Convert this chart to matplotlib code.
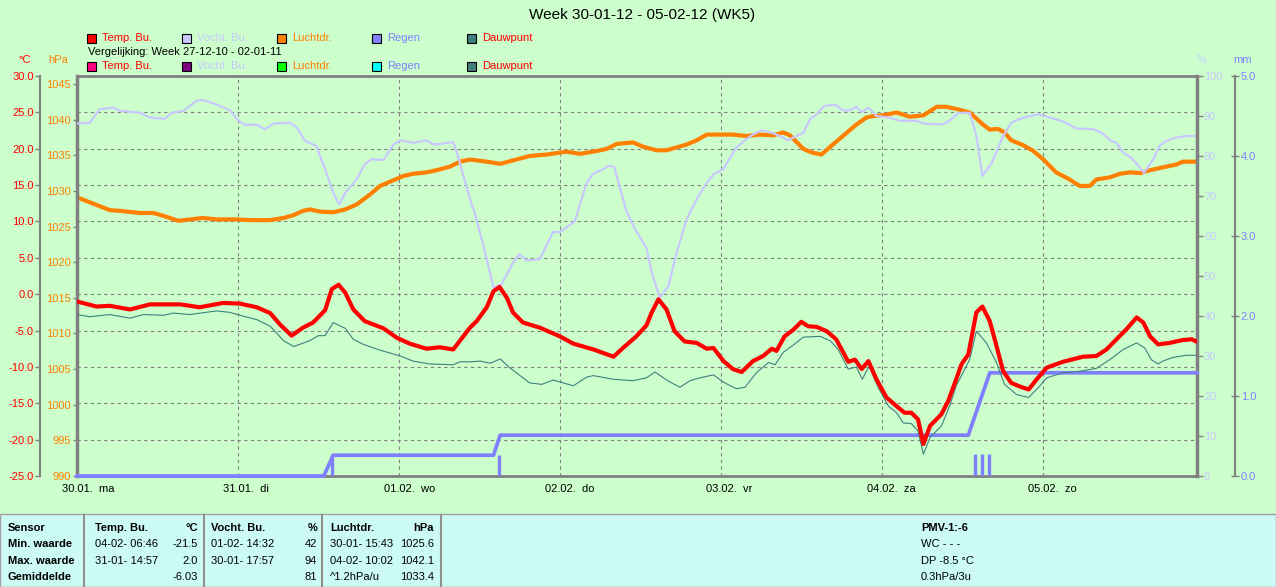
import matplotlib
matplotlib.use('Agg')
import matplotlib.pyplot as plt
from matplotlib.patches import Rectangle
from matplotlib.lines import Line2D

# hours since 30-01 00:00
temp_h = [0, 2.9, 4.9, 7.9, 10.9, 15.4, 18.3, 21.8, 24.3, 26.8, 28.8, 30.3, 32.0, 33.7, 35.2,
          37.0, 38.0, 39.0, 40.0, 41.2, 42.9, 45.7, 47.7, 49.6, 52.1, 54.1, 56.1, 57.6, 58.6, 59.6,
          61.1, 62.1, 63.0, 64.1, 65.0, 66.5, 69.0, 72.0, 74.0, 77.0, 80.0, 81.4, 83.4, 84.9, 85.7,
          86.7, 87.9, 89.1, 90.6, 92.4, 93.9, 94.9, 96.4, 97.8, 99.1, 100.8, 102.3, 103.6, 104.3, 105.5,
          106.8, 108.0, 109.0, 110.3, 111.8, 113.2, 115.0, 116.0, 117.0, 118.0, 119.2, 120.7, 122.2, 123.4, 124.4,
          125.4, 126.2, 127.2, 128.9, 129.9, 130.9, 131.9, 132.9, 134.1, 135.0, 136.1, 137.1, 138.1, 139.3, 140.6,
          141.9, 143.1, 144.6, 147.0, 150.0, 152.0, 153.5, 155.0, 156.5, 158.0, 159.0, 160.0, 161.2, 162.9, 164.9,
          166.2, 166.9]
temp = [-1.0, -1.7, -1.6, -2.1, -1.4, -1.4, -1.8, -1.2, -1.3, -1.8, -2.6, -4.2, -5.7, -4.6, -3.9,
        -2.2, 0.7, 1.3, 0.2, -2.1, -3.7, -4.7, -6.0, -6.8, -7.5, -7.3, -7.6, -5.8, -4.6, -3.7,
        -1.8, 0.4, 1.0, -0.5, -2.5, -3.9, -4.6, -5.8, -6.8, -7.6, -8.6, -7.4, -5.8, -4.3, -2.5,
        -0.7, -2.1, -5.1, -6.5, -6.7, -7.5, -7.4, -9.2, -10.3, -10.7, -9.2, -8.5, -7.5, -7.8, -5.8,
        -4.9, -3.8, -4.4, -4.5, -5.1, -6.2, -9.3, -9.0, -10.3, -9.2, -11.7, -14.2, -15.4, -16.3, -16.3,
        -17.2, -20.6, -18.1, -16.5, -14.7, -12.2, -9.6, -8.3, -2.5, -1.7, -3.7, -7.1, -10.6, -12.2, -12.7,
        -13.1, -11.7, -10.1, -9.3, -8.6, -8.5, -7.6, -6.2, -4.8, -3.2, -3.9, -5.8, -6.9, -6.7, -6.3,
        -6.2, -6.5]

dew_h = [0, 1.9, 4.9, 7.9, 9.9, 12.9, 14.4, 16.8, 20.8, 22.8, 24.3, 26.8, 28.8, 30.8, 32.3,
         34.7, 36.0, 37.0, 38.2, 40.0, 41.2, 42.7, 45.2, 48.2, 50.1, 52.6, 56.1, 57.1, 58.6, 60.1,
         61.6, 63.1, 64.5, 67.5, 69.3, 71.0, 74.0, 76.0, 77.0, 80.0, 81.4, 82.9, 84.9, 86.2, 87.9,
         89.9, 91.4, 92.9, 94.9, 96.4, 98.3, 99.6, 101.3, 103.1, 104.1, 105.3, 106.8, 108.3, 110.8, 112.3,
         113.5, 115.0, 116.2, 117.1, 118.1, 119.5, 121.0, 122.2, 123.2, 124.4, 125.4, 126.2, 127.2, 128.9, 130.1,
         131.1, 132.1, 133.1, 134.1, 135.6, 137.1, 138.3, 140.1, 141.9, 143.3, 144.6, 147.0, 149.5, 152.0, 154.0,
         156.0, 158.0, 159.2, 160.2, 161.2, 161.9, 163.4, 165.4, 166.9]
dew = [-2.8, -3.1, -2.8, -3.3, -2.8, -2.9, -2.6, -2.8, -2.3, -2.5, -2.9, -3.5, -4.4, -6.4, -7.2,
       -6.4, -5.7, -5.7, -3.9, -4.7, -6.2, -6.9, -7.7, -8.5, -9.2, -9.6, -9.7, -9.3, -9.3, -9.2,
       -9.5, -8.9, -10.1, -12.2, -12.4, -11.8, -12.6, -11.4, -11.2, -11.7, -11.8, -11.9, -11.5, -10.7, -11.8,
       -12.8, -11.9, -11.5, -11.1, -12.1, -13.0, -12.8, -10.8, -9.4, -9.7, -8.0, -7.0, -5.9, -5.8, -6.4,
       -7.6, -10.3, -10.0, -11.7, -9.9, -12.9, -15.4, -16.3, -17.7, -17.8, -18.8, -22.0, -19.7, -18.1, -15.4,
       -12.6, -10.8, -9.0, -5.1, -6.7, -9.4, -12.4, -13.8, -14.2, -12.9, -11.5, -10.8, -10.6, -10.2, -9.0,
       -7.6, -6.7, -7.4, -9.0, -9.6, -9.2, -8.7, -8.4, -8.4]

hum_h = [0, 1.9, 3.4, 5.4, 6.4, 9.4, 10.9, 13.1, 14.1, 15.9, 17.8, 18.8, 20.8, 22.8, 24.1,
         25.0, 26.8, 28.0, 29.3, 31.8, 32.8, 34.0, 35.7, 37.2, 38.2, 39.1, 40.0, 41.7, 42.9, 43.9,
         45.7, 47.2, 48.2, 50.1, 52.1, 53.1, 54.6, 56.1, 56.8, 58.6, 59.3, 60.8, 62.1, 63.3, 65.0,
         66.0, 67.0, 69.0, 71.0, 72.0, 74.2, 76.0, 77.0, 78.5, 79.2, 80.1, 81.9, 83.2, 84.9, 85.7,
         86.9, 88.2, 89.4, 90.9, 92.4, 93.9, 94.9, 96.4, 98.3, 99.8, 100.8, 102.1, 103.8, 104.8, 106.0,
         106.8, 108.3, 109.3, 110.3, 111.3, 112.0, 113.2, 114.2, 115.2, 116.2, 117.0, 118.0, 119.2, 121.0, 122.7,
         125.2, 126.2, 129.1, 130.1, 131.4, 133.1, 134.1, 135.0, 136.4, 138.1, 139.3, 141.1, 143.3, 146.0, 147.5,
         149.0, 151.5, 152.8, 154.2, 155.0, 156.0, 157.2, 158.5, 159.1, 160.5, 161.4, 162.4, 163.9, 165.4, 166.9]
hum = [88.1, 88.3, 91.7, 92.1, 91.3, 90.8, 89.6, 89.3, 90.8, 91.3, 93.8, 94.0, 92.9, 91.4, 88.8,
       87.8, 87.8, 86.7, 88.1, 88.3, 87.1, 83.8, 82.5, 75.8, 70.8, 67.9, 70.8, 74.2, 77.9, 79.2,
       79.0, 82.9, 83.9, 83.3, 83.9, 82.9, 83.1, 83.5, 80.0, 69.2, 65.8, 56.3, 47.1, 47.9, 53.3,
       55.4, 53.9, 54.2, 61.0, 61.0, 63.6, 73.3, 75.6, 76.7, 77.5, 77.3, 66.3, 61.7, 57.1, 50.8,
       44.6, 47.5, 55.8, 64.2, 69.2, 73.3, 75.4, 76.8, 82.1, 84.2, 85.4, 86.4, 85.7, 85.0, 83.9,
       84.6, 85.8, 89.2, 90.4, 92.3, 92.7, 92.7, 91.4, 91.4, 92.3, 91.0, 92.1, 90.0, 89.6, 88.8,
       88.8, 88.1, 87.9, 88.8, 90.8, 90.8, 85.0, 75.0, 78.3, 85.0, 88.3, 89.6, 90.4, 89.2, 88.3,
       86.9, 86.7, 85.8, 83.8, 83.3, 80.8, 79.6, 77.1, 75.8, 79.2, 82.5, 83.8, 84.6, 85.0, 85.0]

pres_h = [0, 1.9, 4.9, 6.4, 9.4, 11.4, 12.9, 15.1, 17.8, 18.8, 20.8, 23.8, 25.8, 28.8, 30.8,
          32.3, 33.7, 34.7, 36.2, 38.2, 40.0, 41.7, 43.7, 45.2, 46.7, 48.7, 50.1, 52.1, 53.6, 55.6,
          57.1, 58.6, 61.1, 63.1, 65.5, 67.5, 70.0, 73.0, 75.0, 77.5, 79.0, 80.5, 82.9, 84.4, 86.4,
          87.9, 90.9, 92.4, 93.9, 96.4, 97.8, 99.8, 101.8, 103.8, 105.3, 106.3, 108.3, 109.5, 111.0, 112.7,
          114.2, 116.2, 117.7, 118.7, 120.2, 122.2, 124.2, 126.2, 128.2, 129.6, 131.1, 133.1, 135.1, 136.1, 137.3,
          138.3, 139.3, 141.1, 142.6, 144.1, 146.0, 148.0, 149.5, 151.0, 152.0, 154.0, 155.5, 157.0, 158.5, 160.0,
          161.9, 163.9, 164.9, 166.9]
pres = [1029.1, 1028.4, 1027.3, 1027.2, 1026.9, 1026.9, 1026.5, 1025.8, 1026.1, 1026.2, 1026.0, 1026.0, 1025.9, 1025.9, 1026.2,
        1026.6, 1027.2, 1027.4, 1027.1, 1027.0, 1027.4, 1028.1, 1029.5, 1030.7, 1031.3, 1032.1, 1032.4, 1032.6, 1032.9, 1033.4,
        1034.1, 1034.4, 1034.1, 1033.8, 1034.4, 1034.9, 1035.1, 1035.5, 1035.2, 1035.6, 1035.9, 1036.6, 1036.8, 1036.2, 1035.7,
        1035.7, 1036.5, 1037.1, 1037.9, 1037.9, 1037.9, 1037.7, 1037.9, 1037.8, 1038.2, 1037.8, 1035.9, 1035.4, 1035.1, 1036.5,
        1037.7, 1039.3, 1040.3, 1040.5, 1040.6, 1041.0, 1040.4, 1040.6, 1041.8, 1041.8, 1041.5, 1041.0, 1039.3, 1038.6, 1038.7,
        1038.2, 1037.1, 1036.4, 1035.6, 1034.4, 1032.6, 1031.6, 1030.7, 1030.7, 1031.6, 1031.9, 1032.4, 1032.6, 1032.5, 1032.9,
        1033.3, 1033.7, 1034.1, 1034.1]

# cumulative rain (mm) and the individual rain events
rain_h = [0, 36.8, 38.2, 62.1, 63.1, 132.9, 136.1, 167.0]
rain_mm = [0, 0, 0.26, 0.26, 0.51, 0.51, 1.29, 1.29]
shower_h = [38.0, 62.9, 133.9, 134.9, 136.0]
shower_mm = [0.26, 0.26, 0.27, 0.27, 0.27]

day_labels = ['30.01.  ma', '31.01.  di', '01.02.  wo', '02.02.  do', '03.02.  vr', '04.02.  za', '05.02.  zo']
temp_ticks = [-25, -20, -15, -10, -5, 0, 5, 10, 15, 20, 25, 30]
pres_ticks = [990, 995, 1000, 1005, 1010, 1015, 1020, 1025, 1030, 1035, 1040, 1045]
hum_ticks = [0, 10, 20, 30, 40, 50, 60, 70, 80, 90, 100]
mm_ticks = [0, 1, 2, 3, 4, 5]

W, H = 1276, 587
BG = '#CCFFCC'
GRAY = '#808080'
RED = '#FF0000'
ORANGE = '#FF8000'
LAV = '#C8C8FF'
BLUE = '#8080FF'
TEAL = '#408080'

plt.rcParams['font.family'] = ['Liberation Sans', 'DejaVu Sans']
plt.rcParams['font.size'] = 8


def fx(x):
    return x / W


def fy(y):
    return 1 - y / H


fig = plt.figure(figsize=(W / 100, H / 100), dpi=100, facecolor=BG)

# base axes: temperature scale + grid
ax = fig.add_axes([fx(77), fy(476), 1120 / W, 400 / H])
ax.set_facecolor(BG)
ax.set_xlim(0, 167)
ax.set_ylim(-25, 30)
ax.set_xticks([24 * i for i in range(7)])
ax.set_xticklabels(day_labels)
ax.set_yticks(temp_ticks)
ax.set_yticklabels(['%.1f' % t for t in temp_ticks])
ax.grid(True, color=GRAY, ls=(0, (3, 3)), lw=0.8)
ax.tick_params(axis='x', length=0, pad=6, labelsize=8, labelcolor='black')
ax.tick_params(axis='y', direction='out', length=3.6, width=1, color=GRAY,
               labelcolor=RED, pad=1, labelsize=8)
for lbl in ax.get_xticklabels():
    lbl.set_ha('left')
    lbl.set_transform(lbl.get_transform() +
                      matplotlib.transforms.ScaledTranslation(-15 / 100, 0, fig.dpi_scale_trans))
ax.spines['left'].set_position(('outward', 26.6))
ax.spines['left'].set_color(GRAY)
ax.spines['left'].set_linewidth(1.5)
ax.spines['right'].set_visible(False)
for s in ('top', 'bottom'):
    ax.spines[s].set_color(GRAY)
    ax.spines[s].set_linewidth(2)

# pressure
ax_p = ax.twinx()
ax_p.yaxis.tick_left()
ax_p.set_ylim(990, 1046.12)
ax_p.set_yticks(pres_ticks)
ax_p.tick_params(axis='y', direction='out', length=3.2, width=1, color=GRAY,
                 labelcolor=ORANGE, pad=1, labelsize=8)
for s in ('top', 'bottom', 'right'):
    ax_p.spines[s].set_visible(False)
ax_p.spines['left'].set_color(GRAY)
ax_p.spines['left'].set_linewidth(2.5)
ax_p.plot(pres_h, pres, color=ORANGE, lw=3)

# humidity
ax_h = ax.twinx()
ax_h.set_ylim(0, 100)
ax_h.set_yticks(hum_ticks)
ax_h.tick_params(axis='y', direction='out', length=4, width=1, color=GRAY,
                 labelcolor=LAV, pad=1, labelsize=8)
for s in ('top', 'bottom', 'left'):
    ax_h.spines[s].set_visible(False)
ax_h.spines['right'].set_color(GRAY)
ax_h.spines['right'].set_linewidth(2.5)
ax_h.plot(hum_h, hum, color=LAV, lw=1.6)

# rain
ax_r = ax.twinx()
ax_r.set_ylim(0, 5)
ax_r.set_yticks(mm_ticks)
ax_r.set_yticklabels(['%.1f' % m for m in mm_ticks])
ax_r.spines['right'].set_position(('outward', 27.4))
ax_r.tick_params(axis='y', direction='inout', length=6, width=1, color=GRAY,
                 labelcolor=BLUE, pad=1, labelsize=8)
for s in ('top', 'bottom', 'left'):
    ax_r.spines[s].set_visible(False)
ax_r.spines['right'].set_color(GRAY)
ax_r.spines['right'].set_linewidth(1.5)
ax_r.plot(rain_h, rain_mm, color=BLUE, lw=2.7, clip_on=False)
ax_r.vlines(shower_h, 0, shower_mm, color=BLUE, lw=2.4)

# temperature + dew point on top
ax_t = ax.twinx()
ax_t.set_ylim(-25, 30)
ax_t.axis('off')
ax_t.plot(dew_h, dew, color=TEAL, lw=0.8)
ax_t.plot(temp_h, temp, color=RED, lw=3)

# title and legend
fig.text(fx(642), fy(15), 'Week 30-01-12 - 05-02-12 (WK5)', ha='center', va='center', fontsize=11)

legend_x = [87, 182, 277, 372, 467]
legend_names = ['Temp. Bu.', 'Vocht. Bu.', 'Luchtdr.', 'Regen', 'Dauwpunt']
legend_text_col = [RED, LAV, ORANGE, BLUE, RED]
row1_col = [RED, LAV, ORANGE, BLUE, TEAL]
row2_col = ['#FF0080', '#800080', '#00FF00', '#00FFFF', TEAL]
for row_y, cols in ((38, row1_col), (66, row2_col)):
    for x, name, tc, sc in zip(legend_x, legend_names, legend_text_col, cols):
        fig.add_artist(Rectangle((fx(x), fy(row_y + 5)), 9 / W, 9 / H, transform=fig.transFigure,
                                 facecolor=sc, edgecolor='black', lw=0.8))
        fig.text(fx(x + 15), fy(row_y), name, color=tc, ha='left', va='center', fontsize=8)
fig.text(fx(88), fy(52), 'Vergelijking: Week 27-12-10 - 02-01-11', ha='left', va='center', fontsize=8)

fig.text(fx(25), fy(60), '°C', color=RED, ha='center', va='center', fontsize=8)
fig.text(fx(58), fy(60), 'hPa', color=ORANGE, ha='center', va='center', fontsize=8)
fig.text(fx(1202), fy(60), '%', color=LAV, ha='center', va='center', fontsize=8)
fig.text(fx(1243), fy(60), 'mm', color=BLUE, ha='center', va='center', fontsize=8)

# bottom summary table
fig.add_artist(Rectangle((0, 0), 1, (H - 514) / H, transform=fig.transFigure,
                         facecolor='#CCFAF4', edgecolor='#A0A0A0', lw=1))
for x in (84, 204, 322, 441):
    fig.add_artist(Line2D([fx(x), fx(x)], [fy(515), 0], transform=fig.transFigure,
                          color='#909090', lw=1.5))

rows_y = [528, 544, 561, 577]
first_col = ['Sensor', 'Min. waarde', 'Max. waarde', 'Gemiddelde']
for y, s in zip(rows_y, first_col):
    fig.text(fx(8), fy(y), s, ha='left', va='center', fontweight='bold', fontsize=8)

cells = [
    (95, 198, ['Temp. Bu.', '04-02- 06:46', '31-01- 14:57', ''], ['°C', '-21.5', '2.0', '-6.03']),
    (211, 317, ['Vocht. Bu.', '01-02- 14:32', '30-01- 17:57', ''], ['%', '42', '94', '81']),
    (330, 434, ['Luchtdr.', '30-01- 15:43', '04-02- 10:02', '^1.2hPa/u'], ['hPa', '1025.6', '1042.1', '1033.4']),
]
for xl, xr, left, right in cells:
    for i, (y, a, b) in enumerate(zip(rows_y, left, right)):
        w = 'bold' if i == 0 else 'normal'
        fig.text(fx(xl), fy(y), a, ha='left', va='center', fontweight=w, fontsize=8)
        fig.text(fx(xr), fy(y), b, ha='right', va='center', fontweight=w, fontsize=8)

extra = ['PMV-1:-6', 'WC - - -', 'DP -8.5 °C', '0.3hPa/3u']
for i, (y, s) in enumerate(zip(rows_y, extra)):
    fig.text(fx(921), fy(y), s, ha='left', va='center',
             fontweight='bold' if i == 0 else 'normal', fontsize=8)

fig.savefig('out.png', dpi=100, facecolor=BG)
